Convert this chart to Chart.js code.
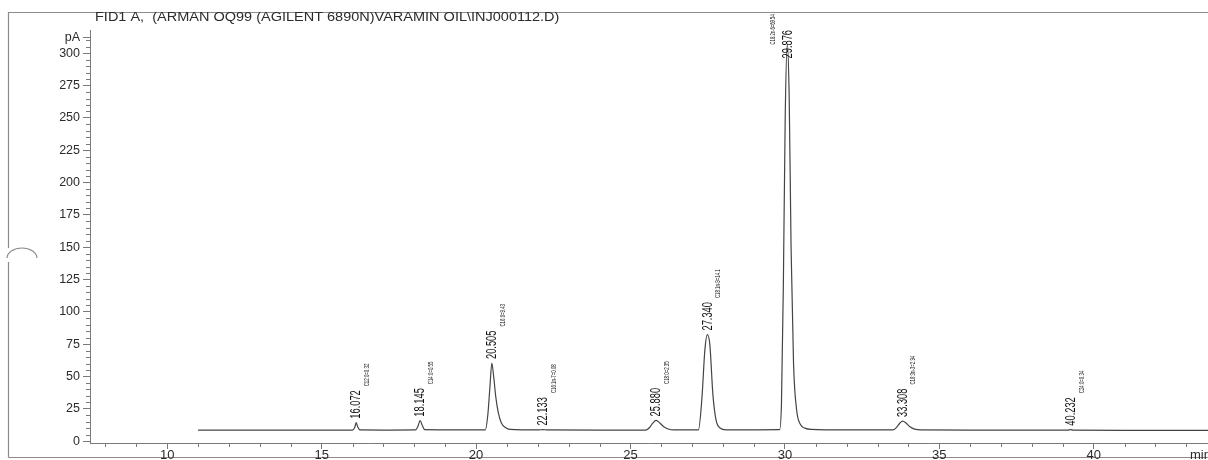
<!DOCTYPE html>
<html>
<head>
<meta charset="utf-8">
<script src="https://cdn.jsdelivr.net/npm/chart.js@4.4.1/dist/chart.umd.min.js"></script>
<style>
  body { margin: 0; background: #fff; }
  #wrap { width: 1208px; height: 460px; }
</style>
</head>
<body>
<div id="wrap"><canvas id="fidChart"></canvas></div>
<script>
// Title and axis tick labels
const titleText = 'FID1 A,  (ARMAN OQ99 (AGILENT 6890N)VARAMIN OIL\\INJ000112.D)';
const xTickValues = [10, 15, 20, 25, 30, 35, 40];
const yTickValues = [0, 25, 50, 75, 100, 125, 150, 175, 200, 225, 250, 275, 300];
const xUnitLabel = 'min';
const yUnitLabel = 'pA';

// Detector trace (time in min, signal in pA)
const traceTime = [
    11.0, 13.0, 15.0,
    16.00, 16.07, 16.12, 16.17, 16.24,
    17.0,
    18.04, 18.12, 18.19, 18.26, 18.34,
    19.5,
    20.30, 20.38, 20.45, 20.51, 20.57, 20.64, 20.72, 20.82, 20.95, 21.10,
    22.0, 22.17, 22.30,
    24.0,
    25.50, 25.62, 25.72, 25.83, 25.95, 26.08, 26.22, 26.40,
    27.20, 27.31, 27.41, 27.49, 27.57, 27.67, 27.77, 27.90, 28.09,
    28.8,
    29.83, 29.89, 29.95, 30.01, 30.08, 30.14, 30.20, 30.28, 30.38, 30.50, 30.65, 30.85,
    32.0,
    33.50, 33.62, 33.72, 33.81, 33.92, 34.05, 34.20, 34.40,
    36.0, 38.0,
    39.15, 39.25, 39.35,
    41.0, 43.7
];
const traceSignal = [
    8.4, 8.4, 8.5,
    8.5, 10.5, 14.2, 10.8, 8.6,
    8.5,
    8.6, 11.5, 15.8, 12.0, 8.8,
    8.6,
    8.7, 20.0, 42.0, 60.4, 50.0, 34.0, 22.0, 14.0, 10.5, 9.0,
    8.6, 8.9, 8.6,
    8.5,
    8.5, 10.5, 13.8, 16.0, 14.0, 11.0, 9.3, 8.6,
    8.6, 31.9, 70.7, 82.4, 74.6, 35.7, 16.3, 10.1, 8.7,
    8.7,
    8.8, 30.0, 120.0, 250.0, 307.0, 265.0, 150.0, 60.0, 24.0, 13.0, 10.0, 9.0,
    8.6,
    8.6, 10.8, 13.8, 15.5, 14.0, 11.0, 9.2, 8.6,
    8.5, 8.4,
    8.4, 8.8, 8.4,
    8.3, 8.3
];

// Integrated peaks: apex time on the plot, printed retention time, compound note
const peakApex = [16.12, 18.19, 20.51, 22.17, 25.83, 27.49, 30.08, 33.81, 39.25];
const peakRetention = ['16.072', '18.145', '20.505', '22.133', '25.880', '27.340', '29.876', '33.308', '40.232'];
const peakCompound = [
    'C12:0=0.32', 'C14:0=0.55', 'C16:0=9.43', 'C16:1n-7=0.08', 'C18:0=2.35',
    'C18:1n-9=14.1', 'C18:2n-6=69.54', 'C18:3n-3=2.94', 'C24:0=0.34'
];

const fontFamily = '"Liberation Sans", Arial, sans-serif';
const inkColor = '#2b2b2b';
const axisColor = '#7a7a7a';
const yUnitValue = 312;

// Draw a text reading bottom-to-top, squeezed along its length
function drawVertical(ctx, text, x, y, squeeze) {
    ctx.save();
    ctx.translate(x, y);
    ctx.rotate(-Math.PI / 2);
    ctx.scale(squeeze, 1);
    ctx.textAlign = 'left';
    ctx.textBaseline = 'middle';
    ctx.fillText(text, 0, 0);
    ctx.restore();
}

const decorPlugin = {
    id: 'decor',
    beforeDraw(chart) {
        const ctx = chart.ctx;
        ctx.save();
        ctx.fillStyle = '#fff';
        ctx.fillRect(0, 0, chart.width, chart.height);

        // Page frame with the punched hole on the left edge
        ctx.strokeStyle = '#8c8c8c';
        ctx.lineWidth = 1.2;
        ctx.beginPath();
        ctx.moveTo(8.5, 457.5);
        ctx.lineTo(8.5, 262);
        ctx.moveTo(8.5, 248);
        ctx.lineTo(8.5, 12.5);
        ctx.lineTo(chart.width, 12.5);
        ctx.moveTo(8.5, 457.5);
        ctx.lineTo(chart.width, 457.5);
        ctx.stroke();
        ctx.beginPath();
        ctx.ellipse(22, 258, 15, 10, 0, Math.PI, 2 * Math.PI);
        ctx.stroke();

        // Report title, printed in a wide face
        ctx.fillStyle = inkColor;
        ctx.font = '12.5px ' + fontFamily;
        ctx.textAlign = 'left';
        ctx.textBaseline = 'middle';
        ctx.translate(chart.chartArea.left + 5, 18);
        ctx.scale(1.16, 1);
        ctx.fillText(titleText, 0, 0);
        ctx.restore();
    },
    afterDraw(chart) {
        const ctx = chart.ctx;
        const xs = chart.scales.x;
        const ys = chart.scales.y;
        const area = chart.chartArea;
        ctx.save();

        // Minor ticks: every minute and every 5 pA
        ctx.strokeStyle = axisColor;
        ctx.lineWidth = 1;
        ctx.beginPath();
        for (let v = Math.ceil(xs.min); v <= xs.max; v++) {
            if (v % 5 === 0) continue;
            const px = Math.round(xs.getPixelForValue(v)) + 0.5;
            ctx.moveTo(px, xs.top);
            ctx.lineTo(px, xs.top + 4);
        }
        for (let v = 5; v <= 310; v += 5) {
            if (v % 25 === 0) continue;
            const py = Math.round(ys.getPixelForValue(v)) + 0.5;
            ctx.moveTo(ys.right - 4, py);
            ctx.lineTo(ys.right, py);
        }
        ctx.stroke();

        // Unit label at the end of the time axis
        ctx.fillStyle = inkColor;
        ctx.font = '13px ' + fontFamily;
        ctx.textAlign = 'left';
        ctx.textBaseline = 'top';
        ctx.fillText(xUnitLabel, xs.right - 18, xs.top + 6);

        // Peak annotations
        ctx.fillStyle = '#141414';
        peakApex.forEach((t, i) => {
            let top = -Infinity;
            traceTime.forEach((tt, j) => {
                if (Math.abs(tt - t) <= 0.2) top = Math.max(top, traceSignal[j]);
            });
            const px = xs.getPixelForValue(t);
            const py = ys.getPixelForValue(top);

            ctx.font = '15px ' + fontFamily;
            const squeeze = 0.62;
            const len = ctx.measureText(peakRetention[i]).width * squeeze;
            let start = py - 4;
            const crowded = start - len < area.top;
            if (crowded) start = area.top + len;
            drawVertical(ctx, peakRetention[i], px, start, squeeze);

            ctx.font = '7px ' + fontFamily;
            if (crowded) {
                drawVertical(ctx, peakCompound[i], px - 14, start - 14, 0.6);
            } else {
                drawVertical(ctx, peakCompound[i], px + 11, start - len - 4, 0.62);
            }
        });
        ctx.restore();
    }
};

const tracePoints = traceTime.map((t, i) => ({ x: t, y: traceSignal[i] }));

new Chart(document.getElementById('fidChart'), {
    type: 'line',
    data: {
        datasets: [{
            label: 'FID1 A',
            data: tracePoints,
            borderColor: '#444',
            borderWidth: 1.2,
            pointRadius: 0,
            fill: false,
            cubicInterpolationMode: 'monotone'
        }]
    },
    options: {
        responsive: true,
        maintainAspectRatio: false,
        animation: false,
        layout: {
            padding: { left: 8, right: 0, top: 30, bottom: 0 }
        },
        plugins: {
            legend: { display: false },
            tooltip: { enabled: false },
            title: { display: false }
        },
        scales: {
            x: {
                type: 'linear',
                min: 7.5,
                max: 43.7,
                afterBuildTicks: scale => {
                    scale.ticks = xTickValues.map(v => ({ value: v }));
                },
                afterFit: scale => { scale.height = 17; },
                ticks: {
                    color: inkColor,
                    font: { family: fontFamily, size: 13 },
                    padding: -1,
                    maxRotation: 0,
                    autoSkip: false
                },
                grid: { drawOnChartArea: false, tickLength: 6, tickColor: axisColor },
                border: { color: axisColor }
            },
            y: {
                min: -1.5,
                max: 318,
                afterBuildTicks: scale => {
                    scale.ticks = yTickValues.map(v => ({ value: v })).concat({ value: yUnitValue });
                },
                afterFit: scale => { scale.width = 82; },
                ticks: {
                    color: inkColor,
                    font: { family: fontFamily, size: 12.5 },
                    padding: 3,
                    autoSkip: false,
                    callback: value => value === yUnitValue ? yUnitLabel : value
                },
                grid: { drawOnChartArea: false, tickLength: 7, tickColor: axisColor },
                border: { color: axisColor }
            }
        }
    },
    plugins: [decorPlugin]
});
</script>
</body>
</html>
